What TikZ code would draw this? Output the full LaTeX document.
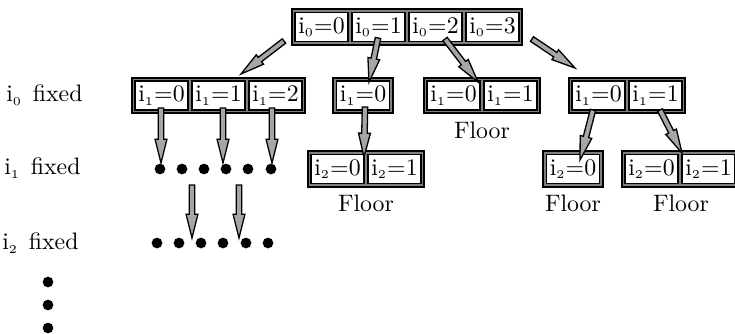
\documentclass[tikz,border=0pt]{standalone}
\usetikzlibrary{calc,fit,backgrounds}

\tikzset{
  cell/.style={draw=black, fill=white, line width=0.6pt, minimum width=22.2pt,
    minimum height=12.2pt, inner sep=0pt, font=\fontsize{10}{12}\selectfont},
  frame/.style={draw=black, fill=black!50, line width=0.95pt, inner sep=1.1pt},
  fatarrowstyle/.style={draw=black, fill=black!35, line width=0.55pt, line join=miter},
  levellabel/.style={anchor=east, inner sep=0pt, font=\fontsize{10}{12}\selectfont},
  floorlabel/.style={inner sep=0pt, font=\fontsize{10}{12}\selectfont},
}

% index labels i_k with a tiny subscript
\newcommand\ix[2]{i$_{\scriptscriptstyle #1}$$=$#2}

% block arrow from #1 to #2 (shaft, then a long narrow head)
\newcommand\fatarrow[2]{%
  \coordinate (fa-base) at ($(#2)!10pt!(#1)$);
  \draw[fatarrowstyle]
    ($(#1)!1.15pt!90:(#2)$) -- ($(fa-base)!1.15pt!90:(#2)$) --
    ($(fa-base)!2.5pt!90:(#2)$) -- (#2) --
    ($(fa-base)!2.5pt!-90:(#2)$) -- ($(fa-base)!1.15pt!-90:(#2)$) --
    ($(#1)!1.15pt!-90:(#2)$) -- cycle;
}

\begin{document}
\begin{tikzpicture}[x=0.42pt, y=-0.42pt]
  \clip (0,0) rectangle (735,333);

  % ---- top level: i0 ----
  \node[cell] (t0) at (321.5,27) {\ix{0}{0}};
  \node[cell] (t1) at (378.5,27) {\ix{0}{1}};
  \node[cell] (t2) at (435.5,27) {\ix{0}{2}};
  \node[cell] (t3) at (492.5,27) {\ix{0}{3}};

  % ---- second level: i1 ----
  \node[cell] (a0) at (161.5,95.5) {\ix{1}{0}};
  \node[cell] (a1) at (218.5,95.5) {\ix{1}{1}};
  \node[cell] (a2) at (275.5,95.5) {\ix{1}{2}};

  \node[cell] (b0) at (363,95.5) {\ix{1}{0}};

  \node[cell] (c0) at (453.5,95.5) {\ix{1}{0}};
  \node[cell] (c1) at (510.5,95.5) {\ix{1}{1}};

  \node[cell] (d0) at (598.5,95.5) {\ix{1}{0}};
  \node[cell] (d1) at (655.5,95.5) {\ix{1}{1}};

  % ---- third level: i2 ----
  \node[cell] (e0) at (337.5,169) {\ix{2}{0}};
  \node[cell] (e1) at (394.5,169) {\ix{2}{1}};

  \node[cell] (f0) at (573,169) {\ix{2}{0}};

  \node[cell] (g0) at (651.5,169) {\ix{2}{0}};
  \node[cell] (g1) at (708.5,169) {\ix{2}{1}};

  % gray frames behind each group of cells
  \begin{scope}[on background layer]
    \node[frame, fit=(t0)(t3)] (T) {};
    \node[frame, fit=(a0)(a2)] (A) {};
    \node[frame, fit=(b0)] (B) {};
    \node[frame, fit=(c0)(c1)] (C) {};
    \node[frame, fit=(d0)(d1)] (D) {};
    \node[frame, fit=(e0)(e1)] (E) {};
    \node[frame, fit=(f0)] (F) {};
    \node[frame, fit=(g0)(g1)] (G) {};
  \end{scope}

  % floor labels
  \node[floorlabel] (Cfloor) at (482,130) {Floor};
  \node[floorlabel] (Efloor) at (366,203) {Floor};
  \node[floorlabel] (Ffloor) at (573,203) {Floor};
  \node[floorlabel] (Gfloor) at (681,203) {Floor};

  % level labels
  \node[levellabel] (L0) at (83,95) {i$_{\scriptscriptstyle 0}$\hspace{0.45em}fixed};
  \node[levellabel] (L1) at (81,168) {i$_{\scriptscriptstyle 1}$\hspace{0.45em}fixed};
  \node[levellabel] (L2) at (79,243) {i$_{\scriptscriptstyle 2}$\hspace{0.45em}fixed};

  % rows of dots
  \foreach \x [count=\k] in {160,182,204,226,248,271} {
    \coordinate (p\k) at (\x,169);
    \fill (p\k) circle (2.25pt);
  }
  \foreach \x [count=\k] in {157,179,201,223,246,268} {
    \coordinate (q\k) at (\x,243);
    \fill (q\k) circle (2.25pt);
  }
  \foreach \y [count=\k] in {282,305,328} {
    \coordinate (v\k) at (48,\y);
    \fill (v\k) circle (2.25pt);
  }

  % arrow end points
  \coordinate (s1) at (284,41);  \coordinate (e1tip) at (241,74);
  \coordinate (s2) at (378,38);  \coordinate (e2tip) at (369,82);
  \coordinate (s3) at (445,39);  \coordinate (e3tip) at (478,82);
  \coordinate (s4) at (532,39);  \coordinate (e4tip) at (575,68);

  \coordinate (sa0) at (161,108); \coordinate (ea0) at (161,163);
  \coordinate (sa1) at (223,108); \coordinate (ea1) at (223,163);
  \coordinate (sa2) at (272,108); \coordinate (ea2) at (272,163);

  \coordinate (sp1) at (192,185); \coordinate (ep1) at (192,238);
  \coordinate (sp2) at (239,185); \coordinate (ep2) at (239,238);

  \coordinate (sb0) at (365,107); \coordinate (eb0) at (364,157);
  \coordinate (sd0) at (593,110); \coordinate (ed0) at (580,160);
  \coordinate (sd1) at (660,110); \coordinate (ed1) at (682,153);

  % arrows
  \fatarrow{s1}{e1tip}
  \fatarrow{s2}{e2tip}
  \fatarrow{s3}{e3tip}
  \fatarrow{s4}{e4tip}
  \fatarrow{sa0}{ea0}
  \fatarrow{sa1}{ea1}
  \fatarrow{sa2}{ea2}
  \fatarrow{sp1}{ep1}
  \fatarrow{sp2}{ep2}
  \fatarrow{sb0}{eb0}
  \fatarrow{sd0}{ed0}
  \fatarrow{sd1}{ed1}
\end{tikzpicture}
\end{document}
